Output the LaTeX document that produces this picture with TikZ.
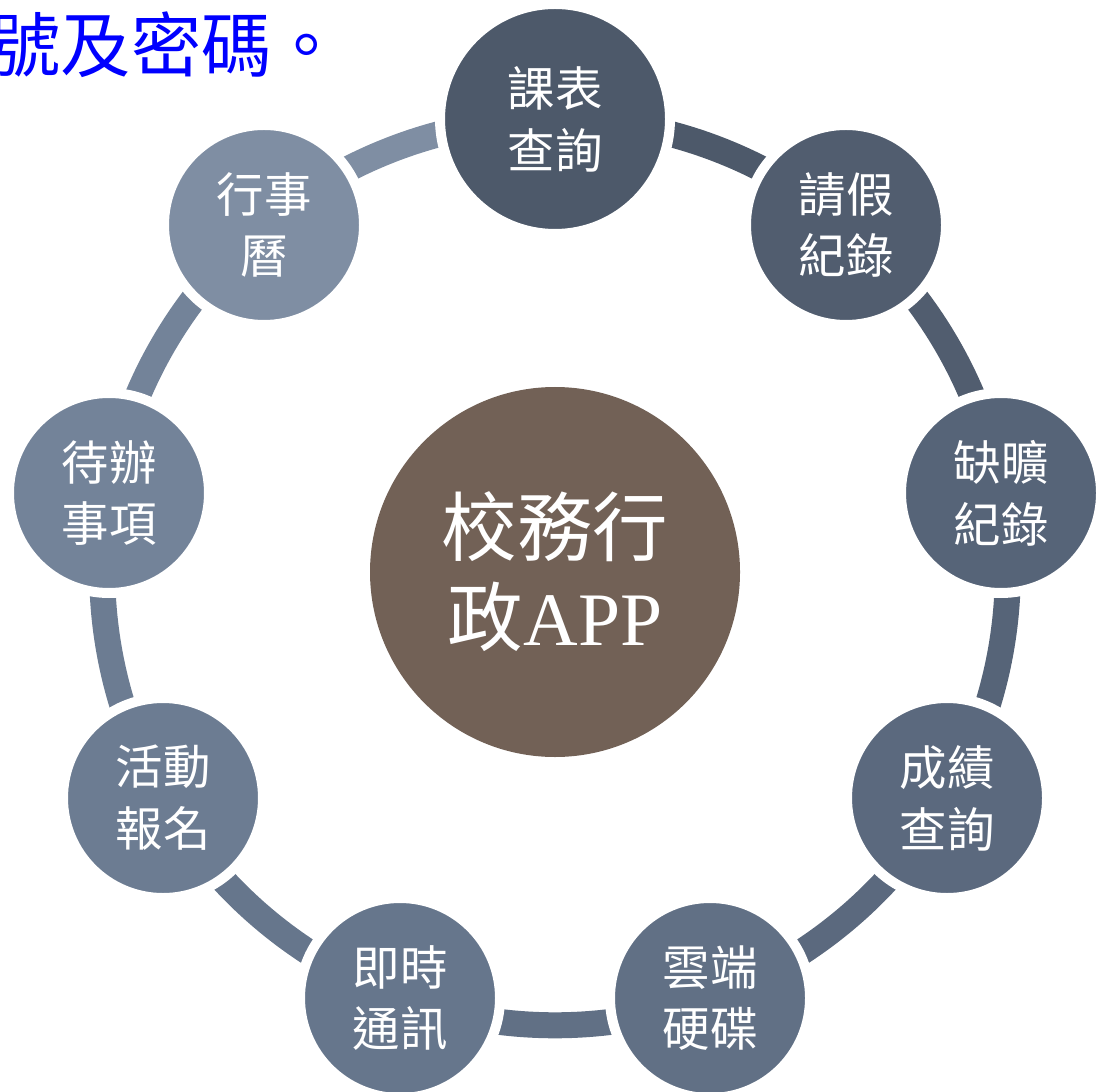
\documentclass[tikz,border=0pt]{standalone}
\usepackage{fontspec}
\setmainfont{Liberation Serif}
\newfontfamily\cjkfont{Noto Sans CJK TC}
\usetikzlibrary{positioning}

\pgfdeclarelayer{bg}
\pgfsetlayers{bg,main}

\definecolor{hubbrown}{HTML}{726156}
\definecolor{ringA}{HTML}{4D596A}
\definecolor{ringB}{HTML}{515D6F}
\definecolor{ringC}{HTML}{566478}
\definecolor{ringD}{HTML}{5B697E}
\definecolor{ringE}{HTML}{617085}
\definecolor{ringF}{HTML}{66768C}
\definecolor{ringG}{HTML}{6C7C92}
\definecolor{ringH}{HTML}{738399}
\definecolor{ringI}{HTML}{7F8EA3}

\begin{document}
\begin{tikzpicture}[
	item/.style={circle, draw=white, line width=1mm, minimum size=20mm, inner sep=0pt, align=center, text=white, font=\cjkfont\fontsize{13.5}{17.6}\selectfont},
	hub/.style={circle, fill=hubbrown, minimum size=37mm, inner sep=0pt, align=center, text=white, font=\cjkfont\fontsize{21.5}{25.6}\selectfont},
	ring/.style={line width=2.6mm},
	note/.style={text=blue, inner sep=0pt, font=\cjkfont\fontsize{20}{24}\selectfont}
]
\useasboundingbox (0,0) rectangle (11.01,10.91);

% Leftover line of the slide text above the diagram.
\node[note, anchor=west] (login) at (-0.1,10.46) {號及密碼。};

% Hub and the nine services round it, clockwise from the top.
\node[hub] (app) at (5.55,5.19) {校務行\\政{\rmfamily APP}};

\node[item, fill=ringA, minimum size=23mm] (schedule) at (5.55,9.72) {課表\\查詢};
\node[item, fill=ringB] (leave) at (8.46,8.66) {請假\\紀錄};
\node[item, fill=ringC] (absence) at (10.01,5.98) {缺曠\\紀錄};
\node[item, fill=ringD] (grades) at (9.47,2.93) {成績\\查詢};
\node[item, fill=ringE] (drive) at (7.10,0.93) {雲端\\硬碟};
\node[item, fill=ringF] (chat) at (4.00,0.93) {即時\\通訊};
\node[item, fill=ringG] (signup) at (1.63,2.93) {活動\\報名};
\node[item, fill=ringH] (todo) at (1.09,5.98) {待辦\\事項};
\node[item, fill=ringI] (calendar) at (2.64,8.66) {行事\\曆};

% Ring pieces, behind the circles.
\begin{pgfonlayer}{bg}
\foreach \src/\dst/\col in {schedule/leave/ringA, leave/absence/ringB, absence/grades/ringC,
		grades/drive/ringD, drive/chat/ringE, chat/signup/ringF, signup/todo/ringG,
		todo/calendar/ringH, calendar/schedule/ringI} {
	\draw[ring, draw=\col] (\src.center) to[bend left=20, looseness=0.88] (\dst.center);
}
\end{pgfonlayer}

\end{tikzpicture}
\end{document}
